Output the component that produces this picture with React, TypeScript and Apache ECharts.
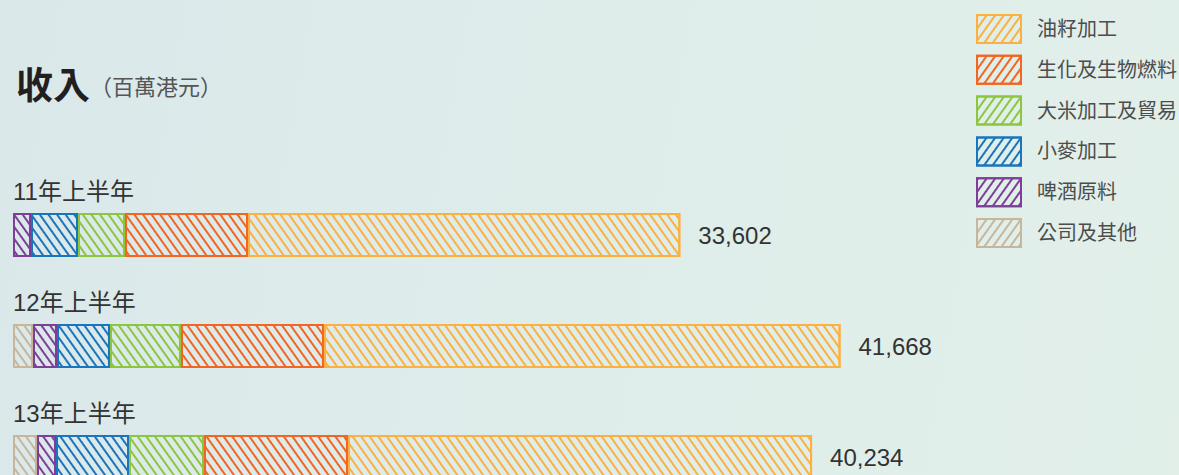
import React, { useEffect, useRef } from 'react';
import * as echarts from 'echarts';

const categories = ['11年上半年', '12年上半年', '13年上半年'];
const seriesNames = ['公司及其他', '啤酒原料', '小麥加工', '大米加工及貿易', '生化及生物燃料', '油籽加工'];
const corporate = [0, 1007, 1208];
const brewing = [906, 1208, 957];
const wheat = [2367, 2668, 3676];
const rice = [2367, 3575, 3776];
const biochem = [6193, 7200, 7250];
const oilseed = [21769, 26010, 23367];
const totals = [33602, 41668, 40234];
const legendOrder = ['油籽加工', '生化及生物燃料', '大米加工及貿易', '小麥加工', '啤酒原料', '公司及其他'];

const seriesValues = [corporate, brewing, wheat, rice, biochem, oilseed];
const seriesColors = ['#c7b69c', '#7e3f98', '#1b75bc', '#8cc63f', '#f26522', '#fbb040'];

const CJK = '"Liberation Sans", "Noto Sans CJK TC", sans-serif';

const makeDecal = (color: string, rotation: number) => ({
  symbol: 'rect',
  symbolSize: 1,
  color,
  dashArrayX: [1, 0],
  dashArrayY: [2, 5],
  rotation,
});

export default function App() {
  const ref = useRef<HTMLDivElement>(null);
  useEffect(() => {
    document.body.style.margin = '0';
    if (!ref.current) return;
    const chart = echarts.init(ref.current, undefined, { renderer: 'svg' });
    const series = seriesNames.map((name, i) => ({
      name,
      type: 'bar',
      stack: 'total',
      barWidth: 44,
      data: seriesValues[i].map((v) => (v === 0 ? '-' : v)),
      itemStyle: {
        color: 'rgba(255,255,255,0)',
        borderColor: seriesColors[i],
        borderWidth: 2,
        decal: makeDecal(seriesColors[i], Math.PI / 3.3),
      },
      label:
        i === seriesNames.length - 1
          ? {
              show: true,
              position: 'right',
              distance: 18,
              fontSize: 24,
              color: '#333',
              fontFamily: '"Liberation Sans", Arial, sans-serif',
              formatter: (p: any) => totals[p.dataIndex].toLocaleString('en-US'),
            }
          : { show: false },
    }));
    chart.setOption({
      animation: false,
      title: {
        text: '{a|收入}{b|（百萬港元）}',
        left: 11,
        top: 60,
        textStyle: {
          fontWeight: 'normal',
          rich: {
            a: { fontSize: 37, fontWeight: 'bold', color: '#231f20', fontFamily: CJK, lineHeight: 42, verticalAlign: 'middle' },
            b: { fontSize: 22, fontWeight: 'normal', color: '#555', fontFamily: CJK, lineHeight: 42, verticalAlign: 'middle', padding: [2, 0, 0, 0] },
          },
        },
      },
      legend: {
        orient: 'vertical',
        left: 971,
        top: 9,
        itemWidth: 44,
        itemHeight: 28,
        itemGap: 10.8,
        icon: 'rect',
        data: legendOrder.map((n) => {
          const c = seriesColors[seriesNames.indexOf(n)];
          return {
            name: n,
            itemStyle: { color: 'rgba(255,255,255,0)', borderColor: c, borderWidth: 2, decal: makeDecal(c, -Math.PI / 3.3) },
          };
        }),
        selectedMode: false,
        textStyle: { fontSize: 20, lineHeight: 22, color: '#4d4d4d', fontFamily: CJK, padding: [0, 0, 0, 11] },
      },
      grid: { left: 13, right: 173, top: 179.5, height: 333, outerBoundsMode: 'none', containLabel: false },
      xAxis: { type: 'value', min: 0, max: 50000, show: false },
      yAxis: {
        type: 'category',
        data: categories,
        inverse: true,
        axisLine: { show: false },
        axisTick: { show: false },
        splitLine: { show: false },
        axisLabel: {
          inside: true,
          margin: 0,
          align: 'left',
          verticalAlign: 'bottom',
          padding: [0, 0, 31, 0],
          fontSize: 24,
          lineHeight: 26,
          color: '#333',
          fontFamily: CJK,
        },
        z: 10,
      },
      series,
    });
    return () => chart.dispose();
  }, []);
  return (
    <div
      ref={ref}
      style={{
        width: 1179,
        height: 475,
        background: 'linear-gradient(100deg, #dbe8ea 0%, #dfeeea 60%, #e2efe9 100%)',
      }}
    />
  );
}
